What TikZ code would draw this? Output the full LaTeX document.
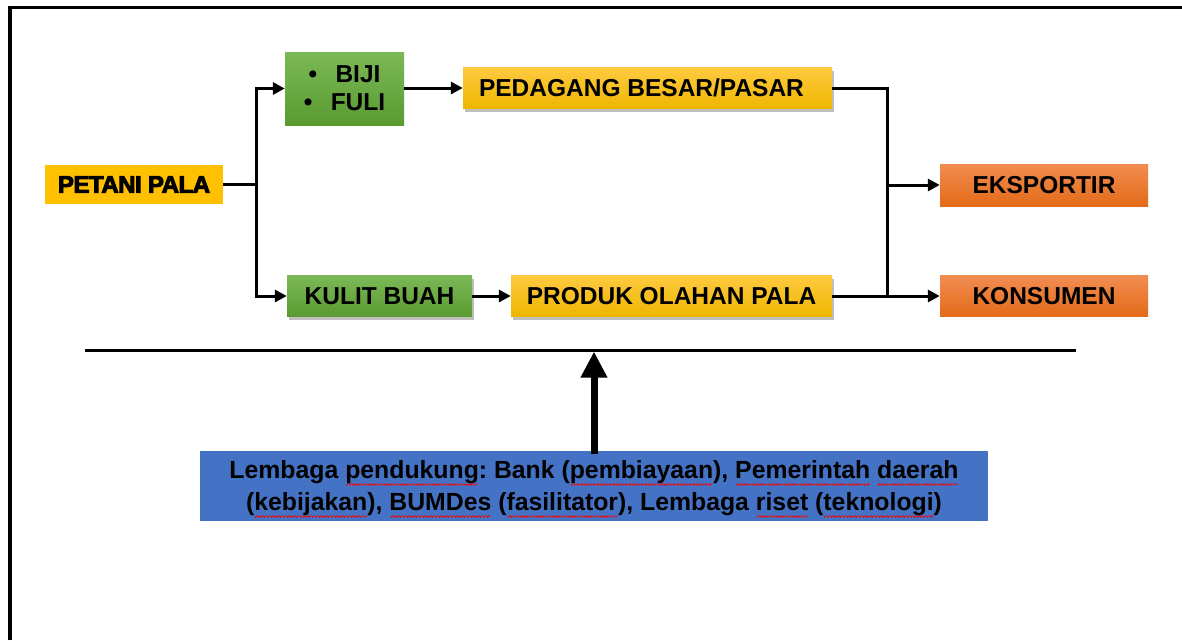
\documentclass[tikz,border=0pt]{standalone}
\usepackage{fontspec}
\setmainfont{Liberation Sans}
\usetikzlibrary{arrows.meta,shadows,positioning}
\frenchspacing
\definecolor{ytop}{HTML}{FFCA40}
\definecolor{ybot}{HTML}{EEB600}
\definecolor{gtop}{HTML}{7CB957}
\definecolor{gbot}{HTML}{5A9A30}
\definecolor{otop}{HTML}{F28D52}
\definecolor{obot}{HTML}{E36A17}
\definecolor{yflat}{HTML}{FFC000}
\definecolor{bluebox}{HTML}{4472C4}
\definecolor{squig}{HTML}{E0101A}
\newsavebox\sqgbox
\newcommand\sqg[1]{\sbox\sqgbox{#1}\rlap{\color{squig}\hbox to \wd\sqgbox{\cleaders\hbox{\rule[-7.2pt]{0.8pt}{1.3pt}\rule[-6.4pt]{0.8pt}{1.3pt}\rule[-5.6pt]{0.8pt}{1.3pt}\rule[-6.4pt]{0.8pt}{1.3pt}}\hfill}}\usebox\sqgbox}
\tikzset{
  box/.style={rectangle, inner sep=0pt, font=\fontsize{24.5}{28}\selectfont\bfseries},
  shad/.style={drop shadow={fill=black, opacity=0.25, shadow xshift=2pt, shadow yshift=-3pt}},
  ybox/.style={box, top color=ytop, bottom color=ybot, shad},
  gbox/.style={box, top color=gtop, bottom color=gbot},
  obox/.style={box, top color=otop, bottom color=obot},
  link/.style={line width=3pt},
  arr/.style={link, -{Triangle[length=12pt,width=12pt]}},
  bigarr/.style={line width=7pt, -{Triangle[length=26pt,width=25pt]}},
}
\begin{document}
\begin{tikzpicture}[x=1pt,y=-1pt]
\useasboundingbox (0,0) rectangle (1182,640);
% frame
\draw[line width=3.5pt] (10,640) -- (10,7.5) -- (1190,7.5);
% nodes
\node[box, fill=yflat, minimum width=178, minimum height=39] (petani) at (134,184.5)
  {\addfontfeature{FakeBold=4,LetterSpace=-2}\fontsize{24}{28}\selectfont PETANI PALA};
\node[gbox, minimum width=119, minimum height=73, align=center] (biji) at (344.5,88.5)
  {\makebox[27pt][l]{\textbullet}BIJI\\\makebox[27pt][l]{\textbullet}FULI};
\node[ybox, minimum width=369, minimum height=41] (pedagang) at (647.5,88) {PEDAGANG BESAR/PASAR\hspace*{12pt}};
\node[gbox, shad, minimum width=185, minimum height=41] (kulit) at (379.5,296) {KULIT BUAH};
\node[ybox, minimum width=321, minimum height=41] (produk) at (671.5,296) {PRODUK OLAHAN PALA};
\node[obox, minimum width=208, minimum height=42] (eks) at (1044,185) {EKSPORTIR};
\node[obox, minimum width=208, minimum height=41] (kons) at (1044,296) {KONSUMEN};
\node[box, fill=bluebox, minimum width=788, minimum height=70, align=center,
  font=\fontsize{24.8}{32}\selectfont\bfseries] (lembaga) at (594,486)
  {\rule{0pt}{24pt}Lembaga \sqg{pendukung}: Bank (\sqg{pembiayaan}), \sqg{Pemerintah} \sqg{daerah}\\
   (\sqg{kebijakan}), \sqg{BUMDes} (\sqg{fasilitator}), Lembaga \sqg{riset} (\sqg{teknologi})};
% connectors
\coordinate (s1) at (256,184.5);
\coordinate (s2) at (887,185);
\draw[link] (petani.east) -- (s1);
\draw[arr] (s1) |- (biji.west);
\draw[arr] (s1) |- (kulit.west);
\draw[arr] (biji.east |- pedagang.west) -- (pedagang.west);
\draw[arr] (kulit.east) -- (produk.west);
\draw[link] (pedagang.east) -| (s2 |- kons.west);
\draw[arr] (produk.east) -- (kons.west);
\draw[arr] (s2) -- (eks.west);
% separator and support arrow
\coordinate (l1) at (85,350);
\coordinate (l2) at (1076,350);
\draw[line width=3pt] (l1) -- (l2);
\draw[bigarr] ([yshift=-3pt]lembaga.north) -- (594,351.5);
\end{tikzpicture}
\end{document}
